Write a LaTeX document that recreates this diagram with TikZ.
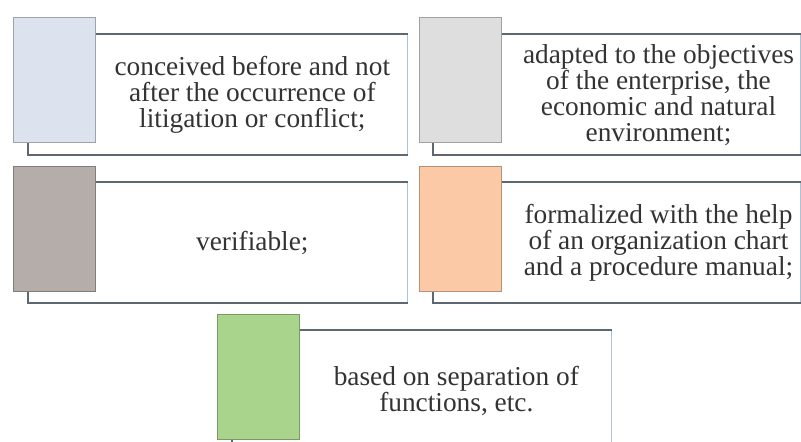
\documentclass[tikz,border=0pt]{standalone}
\usepackage{fontspec}
\newfontfamily\cardserif{Liberation Serif}
\usetikzlibrary{calc,positioning}

\definecolor{fcInk}{HTML}{333333}
\definecolor{fcEdge}{HTML}{A9C3DA}
\definecolor{fcRule}{HTML}{5E6873}
\definecolor{fcBlue}{HTML}{DCE3EE}
\definecolor{fcGrey}{HTML}{DEDEDE}
\definecolor{fcStone}{HTML}{B4ADA9}
\definecolor{fcPeach}{HTML}{FBC9A6}
\definecolor{fcGreen}{HTML}{A9D48C}

\tikzset{
  card/.style={draw=fcEdge, fill=white, line width=1pt, minimum width=284.25pt,
    minimum height=90pt, anchor=north west, inner sep=0pt},
  cardrule/.style={fcRule, line width=1.3pt},
  tab/.style={fill=#1, draw=#1!72!black, line width=1pt, minimum width=61.5pt,
    minimum height=93.75pt, anchor=north west, inner sep=0pt},
  cardtext/.style={text=fcInk, align=center, inner sep=0pt,
    font=\cardserif\fontsize{20.5}{19.5}\selectfont},
}

\begin{document}
\begin{tikzpicture}[x=0.75pt, y=-0.75pt]
  \useasboundingbox (0,0) rectangle (801,442);
  \clip (0,0) rectangle (801,442);

  % top left
  \node[card] (c1) at (28,34) {};
  \draw[cardrule] (c1.north west) -- (c1.north east);
  \draw[cardrule] (c1.north west) -- (c1.south west) -- (c1.south east);
  \node[tab=fcBlue] (t1) at (13,17) {};
  \node[cardtext] (l1) at ($(t1.north east |- c1.center)!0.5!(c1.east)$)
    {conceived before and not\\after the occurrence of\\litigation or conflict;};

  % top right
  \node[card, minimum width=275.25pt] (c2) at (433,34) {};
  \draw[cardrule] (c2.north west) -- (c2.north east);
  \draw[cardrule] (c2.north west) -- (c2.south west) -- (c2.south east);
  \node[tab=fcGrey] (t2) at (419,17) {};
  \node[cardtext, xshift=5pt] (l2) at ($(t2.north east |- c2.center)!0.5!(c2.east)$)
    {adapted to the objectives\\of the enterprise, the\\economic and natural\\environment;};

  % middle left
  \node[card] (c3) at (28,182) {};
  \draw[cardrule] (c3.north west) -- (c3.north east);
  \draw[cardrule] (c3.north west) -- (c3.south west) -- (c3.south east);
  \node[tab=fcStone] (t3) at (13,166) {};
  \node[cardtext] (l3) at ($(t3.north east |- c3.center)!0.5!(c3.east)$)
    {verifiable;};

  % middle right
  \node[card, minimum width=275.25pt] (c4) at (433,182) {};
  \draw[cardrule] (c4.north west) -- (c4.north east);
  \draw[cardrule] (c4.north west) -- (c4.south west) -- (c4.south east);
  \node[tab=fcPeach] (t4) at (419,166) {};
  \node[cardtext, xshift=5pt] (l4) at ($(t4.north east |- c4.center)!0.5!(c4.east)$)
    {formalized with the help\\of an organization chart\\and a procedure manual;};

  % bottom
  \node[card] (c5) at (232,330) {};
  \draw[cardrule] (c5.north west) -- (c5.north east);
  \draw[cardrule] (c5.north west) -- (c5.south west) -- (c5.south east);
  \node[tab=fcGreen] (t5) at (217,314) {};
  \node[cardtext] (l5) at ($(t5.north east |- c5.center)!0.5!(c5.east)$)
    {based on separation of\\functions, etc.};
\end{tikzpicture}
\end{document}
